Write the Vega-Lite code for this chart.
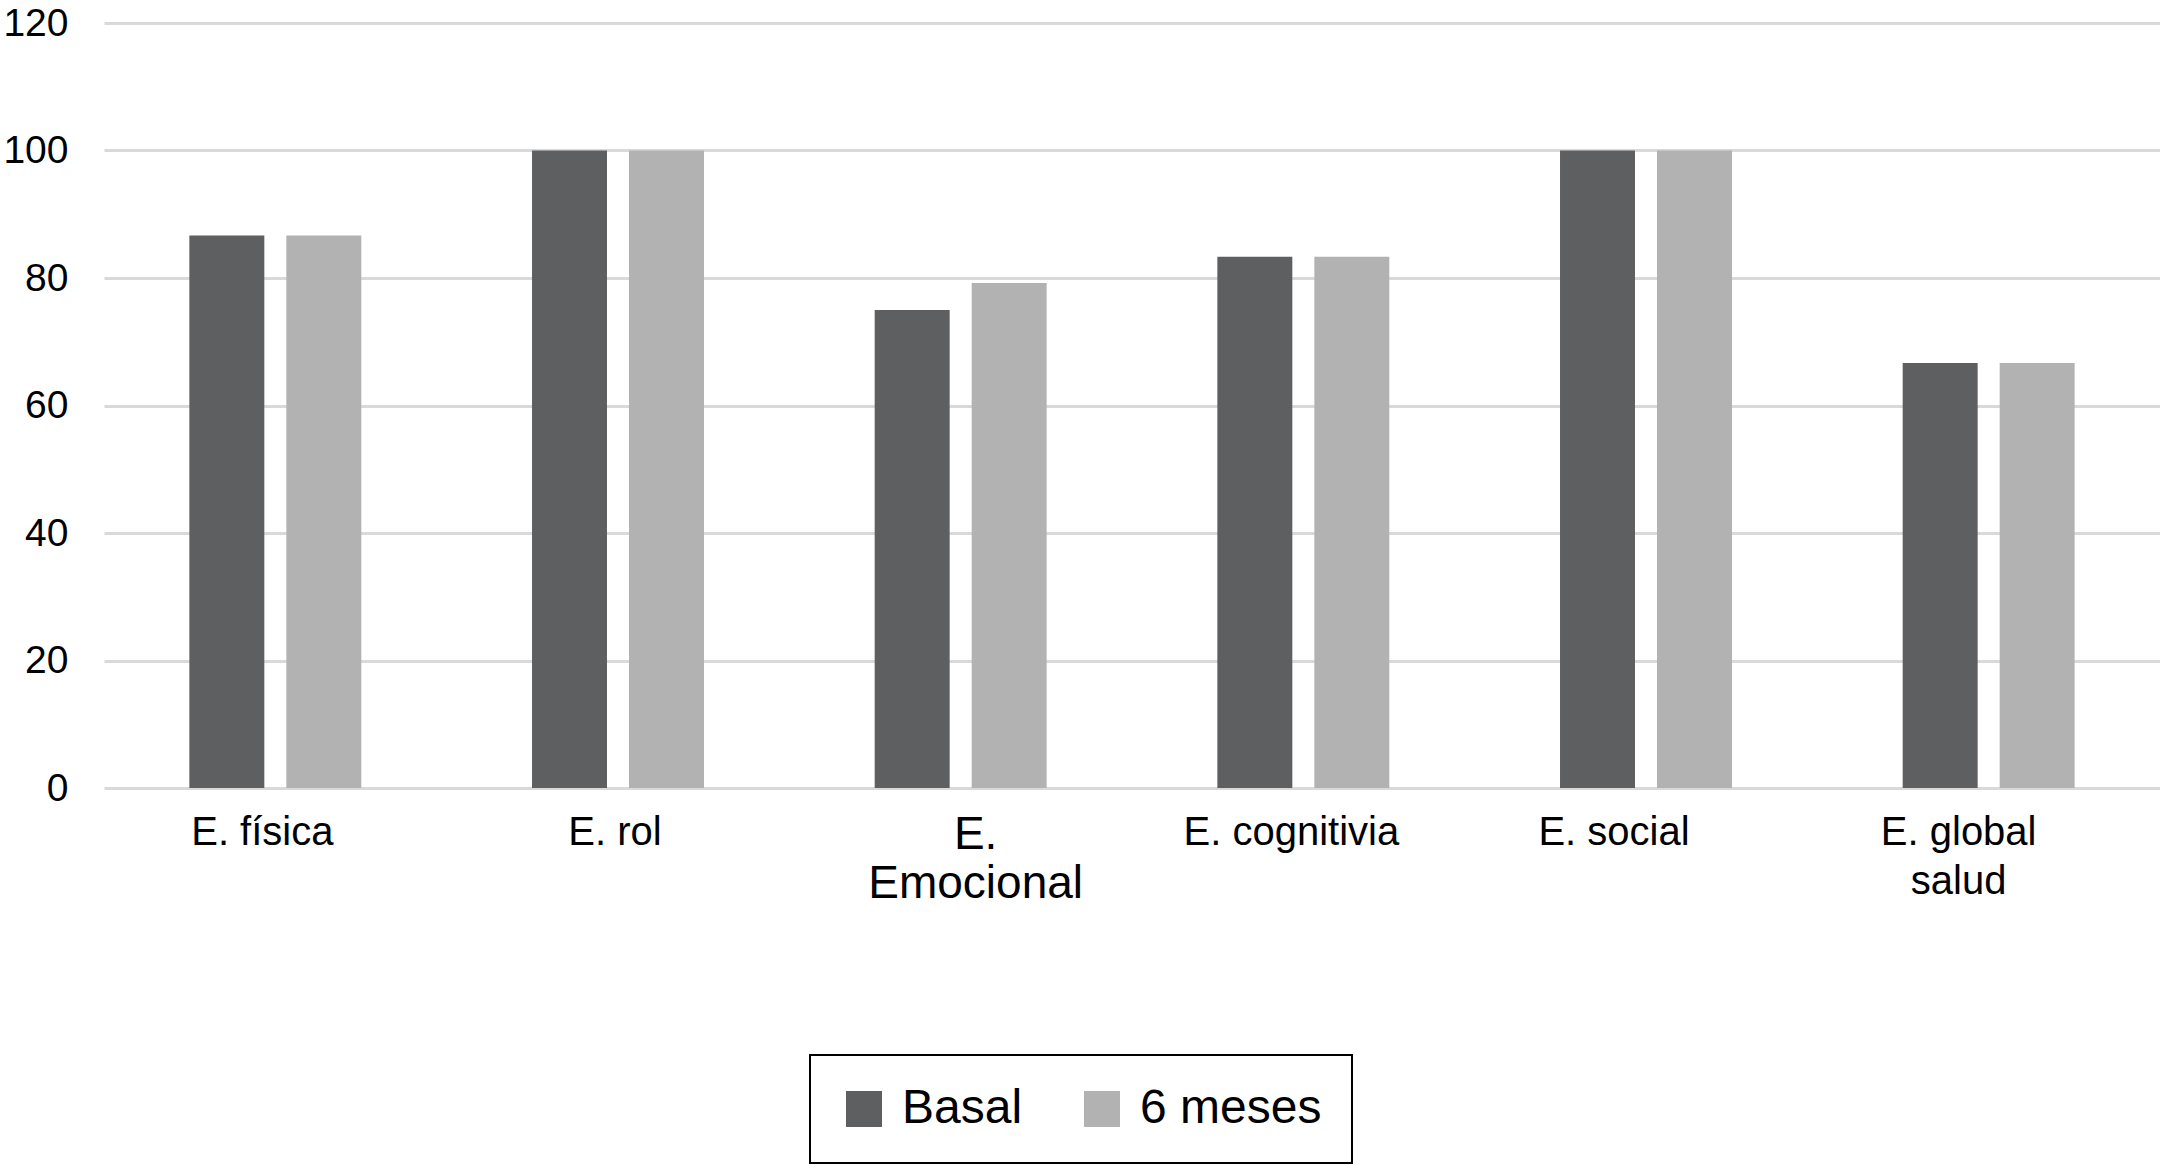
{
  "$schema": "https://vega.github.io/schema/vega-lite/v6.json",
  "autosize": "none",
  "width": 2056,
  "height": 765,
  "padding": {"left": 104, "top": 23, "right": 0, "bottom": 377},
  "background": "white",
  "config": {
    "view": {"stroke": null},
    "font": "Liberation Sans",
    "legend": {"strokeWidth": 2}
  },
  "data": {
    "values": [
      {"dimension": "E. física", "serie": "Basal", "valor": 86.67},
      {"dimension": "E. física", "serie": "6 meses", "valor": 86.67},
      {"dimension": "E. rol", "serie": "Basal", "valor": 100},
      {"dimension": "E. rol", "serie": "6 meses", "valor": 100},
      {"dimension": "E.|Emocional", "serie": "Basal", "valor": 75},
      {"dimension": "E.|Emocional", "serie": "6 meses", "valor": 79.2},
      {"dimension": "E. cognitivia", "serie": "Basal", "valor": 83.33},
      {"dimension": "E. cognitivia", "serie": "6 meses", "valor": 83.33},
      {"dimension": "E. social", "serie": "Basal", "valor": 100},
      {"dimension": "E. social", "serie": "6 meses", "valor": 100},
      {"dimension": "E. global|salud", "serie": "Basal", "valor": 66.67},
      {"dimension": "E. global|salud", "serie": "6 meses", "valor": 66.67}
    ]
  },
  "mark": {"type": "bar"},
  "encoding": {
    "x": {
      "field": "dimension",
      "type": "nominal",
      "sort": null,
      "scale": {"paddingInner": 0, "paddingOuter": 0},
      "axis": {
        "title": null,
        "labelAngle": 0,
        "labelExpr": "split(datum.label, '|')",
        "labelFontSize": {
          "condition": {"test": "datum.value === 'E.|Emocional'", "value": 46},
          "value": 40
        },
        "labelOffset": {
          "condition": [
            {"test": "datum.value === 'E. física'", "value": -13},
            {"test": "datum.value === 'E. rol'", "value": -3},
            {"test": "datum.value === 'E.|Emocional'", "value": 15},
            {"test": "datum.value === 'E. cognitivia'", "value": -12},
            {"test": "datum.value === 'E. social'", "value": -32}
          ],
          "value": -30
        },
        "labelLineHeight": 49,
        "labelColor": "black",
        "labelPadding": 24,
        "labelBaseline": "top",
        "labelLimit": 400,
        "ticks": false,
        "domain": false,
        "grid": false
      }
    },
    "xOffset": {
      "field": "serie",
      "type": "nominal",
      "sort": ["Basal", "6 meses"],
      "scale": {"paddingInner": 0.227, "paddingOuter": 0.88}
    },
    "y": {
      "field": "valor",
      "type": "quantitative",
      "scale": {"domain": [0, 120], "nice": false},
      "axis": {
        "title": null,
        "values": [0, 20, 40, 60, 80, 100, 120],
        "labelFontSize": 39,
        "labelColor": "black",
        "labelPadding": 36,
        "ticks": false,
        "domain": false,
        "grid": true,
        "gridColor": "#d9d9d9",
        "gridWidth": 3
      }
    },
    "color": {
      "field": "serie",
      "type": "nominal",
      "sort": ["Basal", "6 meses"],
      "scale": {"domain": ["Basal", "6 meses"], "range": ["#5e5f61", "#b2b2b2"]},
      "legend": {
        "title": null,
        "orient": "none",
        "direction": "horizontal",
        "legendX": 706,
        "legendY": 1032,
        "strokeColor": "black",
        "fillColor": "white",
        "padding": 30,
        "symbolType": "square",
        "symbolSize": 1296,
        "symbolStrokeWidth": 0,
        "symbolOpacity": 1,
        "labelFontSize": 48,
        "labelLimit": 400,
        "labelColor": "black",
        "labelOffset": 14,
        "columnPadding": 55
      }
    }
  }
}
